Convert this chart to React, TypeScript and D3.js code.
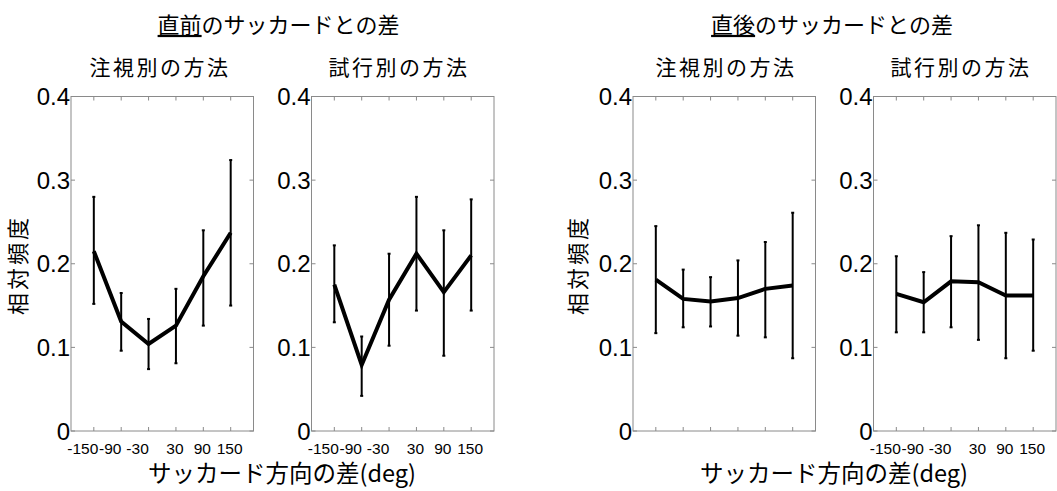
import React from 'react'
import * as d3 from 'd3'

// direction difference categories (deg)
const angles = [-150, -90, -30, 30, 90, 150]
const angleLabels = ['-150', '-90', '-30', '30', '90', '150']
const yTicks = [0, 0.1, 0.2, 0.3, 0.4]
const yTickLabels = ['0', '0.1', '0.2', '0.3', '0.4']

// previous saccade, per fixation
const prevFixMean = [0.215, 0.131, 0.104, 0.126, 0.185, 0.237]
const prevFixLo = [0.152, 0.096, 0.074, 0.081, 0.126, 0.150]
const prevFixHi = [0.280, 0.165, 0.134, 0.170, 0.240, 0.324]
// previous saccade, per trial
const prevTrialMean = [0.175, 0.079, 0.157, 0.212, 0.166, 0.210]
const prevTrialLo = [0.130, 0.042, 0.102, 0.144, 0.090, 0.144]
const prevTrialHi = [0.222, 0.113, 0.212, 0.280, 0.240, 0.277]
// next saccade, per fixation
const nextFixMean = [0.181, 0.158, 0.155, 0.159, 0.170, 0.174]
const nextFixLo = [0.117, 0.124, 0.125, 0.114, 0.112, 0.087]
const nextFixHi = [0.245, 0.193, 0.184, 0.204, 0.226, 0.261]
// next saccade, per trial
const nextTrialMean = [0.164, 0.154, 0.179, 0.178, 0.162, 0.162]
const nextTrialLo = [0.118, 0.118, 0.124, 0.109, 0.087, 0.096]
const nextTrialHi = [0.209, 0.190, 0.233, 0.246, 0.237, 0.229]

const FONT = '"Liberation Sans", Arial, "Noto Sans CJK JP", sans-serif'
const JP = '"Noto Sans CJK JP", "Liberation Sans", sans-serif'
const BOX = '#8a8a8a'

const TOP = 96.5
const BOTTOM = 431
const PW = 182.5

function Panel({ left, mean, lo, hi, showX }) {
  const x = d3.scaleLinear().domain([-200, 200]).range([left, left + PW])
  const y = d3.scaleLinear().domain([0, 0.4]).range([BOTTOM, TOP])
  const line = d3.line<number>().x((d, i) => x(angles[i])).y(d => y(d))
  const tl = 4
  return (
    <g>
      <rect x={left} y={TOP} width={PW} height={BOTTOM - TOP} fill="none" stroke={BOX} strokeWidth={1} />
      {angles.map(a => (
        <g key={a}>
          <line x1={x(a)} x2={x(a)} y1={BOTTOM} y2={BOTTOM - tl} stroke={BOX} />
          <line x1={x(a)} x2={x(a)} y1={TOP} y2={TOP + tl} stroke={BOX} />
        </g>
      ))}
      {yTicks.map(t => (
        <g key={t}>
          <line x1={left} x2={left + tl} y1={y(t)} y2={y(t)} stroke={BOX} />
          <line x1={left + PW} x2={left + PW - tl} y1={y(t)} y2={y(t)} stroke={BOX} />
        </g>
      ))}
      {yTicks.map((t, i) => (
        <text key={'yl' + t} x={left - 1} y={y(t)} dy="0.36em" textAnchor="end" fontSize={24} fontFamily={FONT}>
          {yTickLabels[i]}
        </text>
      ))}
      {showX && angles.map((a, i) => (
        <text key={'xl' + a} x={x(a)} dx={a < 0 ? -11 : -1} y={BOTTOM + 17} dy="0.36em" textAnchor="middle" fontSize={15.5} fontFamily={FONT}>
          {angleLabels[i]}
        </text>
      ))}
      {angles.map((a, i) => (
        <g key={'e' + a} stroke="#000" strokeWidth={2}>
          <line x1={x(a)} x2={x(a)} y1={y(lo[i])} y2={y(hi[i])} />
          <line x1={x(a) - 1.5} x2={x(a) + 1.5} y1={y(lo[i])} y2={y(lo[i])} />
          <line x1={x(a) - 1.5} x2={x(a) + 1.5} y1={y(hi[i])} y2={y(hi[i])} />
        </g>
      ))}
      <path d={line(mean) || ''} fill="none" stroke="#000" strokeWidth={4} />
    </g>
  )
}

export default function App() {
  return (
    <svg width={1057} height={491} style={{ position: 'absolute', left: 0, top: 0, background: '#fff' }}>
      <rect width={1057} height={491} fill="#fff" />
      <text x={278.5} y={25} dy="0.36em" textAnchor="middle" fontSize={22} fontFamily={JP}>
        <tspan textDecoration="underline">直前</tspan>のサッカードとの差
      </text>
      <text x={832} y={25} dy="0.36em" textAnchor="middle" fontSize={22} fontFamily={JP}>
        <tspan textDecoration="underline">直後</tspan>のサッカードとの差
      </text>
      {[['注視別の方法', 160], ['試行別の方法', 399], ['注視別の方法', 726], ['試行別の方法', 961]].map(([s, cx], i) => (
        <text key={i} x={cx as number} y={67} dy="0.36em" textAnchor="middle" fontSize={21} letterSpacing={2.5} fontFamily={JP}>
          {s}
        </text>
      ))}
      {[18.5, 578.5].map(cx => (
        <text key={cx} transform={`translate(${cx},265) rotate(-90)`} dy="0.36em" textAnchor="middle" fontSize={22} letterSpacing={3} fontFamily={JP}>
          相対頻度
        </text>
      ))}
      {[282, 834].map(cx => (
        <text key={cx} x={cx} y={474} dy="0.36em" textAnchor="middle" fontSize={23.5} fontFamily={JP}>
          サッカード方向の差(deg)
        </text>
      ))}
      <Panel left={71} mean={prevFixMean} lo={prevFixLo} hi={prevFixHi} showX />
      <Panel left={311.5} mean={prevTrialMean} lo={prevTrialLo} hi={prevTrialHi} showX />
      <Panel left={633} mean={nextFixMean} lo={nextFixLo} hi={nextFixHi} showX={false} />
      <Panel left={873.5} mean={nextTrialMean} lo={nextTrialLo} hi={nextTrialHi} showX />
    </svg>
  )
}
